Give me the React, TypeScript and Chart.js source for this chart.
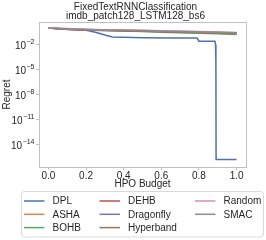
import React, { useEffect, useRef } from "react";
import { Chart, registerables } from "chart.js";

Chart.register(...registerables);

const titleLines = ["FixedTextRNNClassification", "imdb_patch128_LSTM128_bs6"];
const xLabel = "HPO Budget";
const yLabel = "Regret";
const xTicks = [0, 0.2, 0.4, 0.6, 0.8, 1.0];
const yTickExps = [-2, -5, -8, -11, -14];

const budgetGrid = [0, 0.1, 0.2, 0.3, 0.4, 0.5, 0.6, 0.7, 0.8, 0.9, 1.0];
const dplBudget = [0, 0.1, 0.2, 0.25, 0.3, 0.34, 0.5, 0.65, 0.79, 0.8, 0.885, 0.888, 0.89, 0.891, 1.0];
const dplRegret = [0.95, 0.66, 0.5, 0.3, 0.14, 0.08, 0.065, 0.062, 0.06, 0.025, 0.024, 0.01, 1e-4, 1.7e-16, 1.7e-16];
const ashaRegret = [0.95, 0.73, 0.6, 0.53, 0.48, 0.43, 0.38, 0.34, 0.3, 0.27, 0.24];
const bohbRegret = [0.95, 0.69, 0.56, 0.48, 0.41, 0.36, 0.3, 0.26, 0.22, 0.19, 0.16];
const dehbRegret = [0.95, 0.63, 0.54, 0.49, 0.44, 0.4, 0.35, 0.31, 0.28, 0.24, 0.22];
const dragonflyRegret = [0.95, 0.73, 0.61, 0.53, 0.46, 0.41, 0.36, 0.32, 0.29, 0.26, 0.23];
const hyperbandRegret = [0.95, 0.69, 0.58, 0.5, 0.44, 0.39, 0.34, 0.3, 0.26, 0.23, 0.2];
const randomRegret = [0.95, 0.8, 0.66, 0.6, 0.54, 0.5, 0.45, 0.4, 0.35, 0.31, 0.28];
const smacRegret = [0.95, 0.76, 0.63, 0.56, 0.51, 0.46, 0.42, 0.37, 0.33, 0.3, 0.26];

const methods = ["DPL", "ASHA", "BOHB", "DEHB", "Dragonfly", "Hyperband", "Random", "SMAC"];
const colors = ["#4c72b0", "#dd8452", "#55a868", "#c44e52", "#8172b3", "#937860", "#da8bc3", "#8c8c8c"];

const FONT = "'Liberation Sans', Arial, sans-serif";
const TEXT = "#262626";
const SPINE = "#c0c0c0";

function zip(xs: number[], ys: number[]) {
  return xs.map((x, i) => ({ x, y: ys[i] }));
}

const decorPlugin = {
  id: "decor",
  afterDraw(chart: any) {
    const ctx = chart.ctx;
    const a = chart.chartArea;
    ctx.save();
    ctx.strokeStyle = SPINE;
    ctx.lineWidth = 1;
    ctx.strokeRect(Math.round(a.left) + 0.5, Math.round(a.top) + 0.5, Math.round(a.right - a.left), Math.round(a.bottom - a.top));
    ctx.fillStyle = TEXT;
    ctx.font = `10px ${FONT}`;
    ctx.textAlign = "center";
    ctx.textBaseline = "middle";
    ctx.fillText(titleLines[0], 135.5, 7);
    ctx.fillText(titleLines[1], 135.5, 16.5);
    ctx.fillText(xLabel, (a.left + a.right) / 2, 184.5);
    ctx.save();
    ctx.translate(7, (a.top + a.bottom) / 2);
    ctx.rotate(-Math.PI / 2);
    ctx.fillText(yLabel, 0, 0);
    ctx.restore();
    const ys = chart.scales.y;
    ctx.textBaseline = "middle";
    ctx.textAlign = "left";
    for (const e of yTickExps) {
      const py = ys.getPixelForValue(Math.pow(10, e));
      const sup = "\u2212" + Math.abs(e);
      ctx.font = `10px ${FONT}`;
      const wBase = ctx.measureText("10").width;
      ctx.font = `7px ${FONT}`;
      const wSup = ctx.measureText(sup).width;
      const right = a.left - 5;
      const x0 = right - wBase - wSup;
      ctx.font = `10px ${FONT}`;
      ctx.fillText("10", x0, py + 1.5);
      ctx.font = `7px ${FONT}`;
      ctx.fillText(sup, x0 + wBase + 0.5, py - 2.5);
    }
    const bx = 21.5, by = 191.5, bw = 242, bh = 45.5;
    ctx.strokeStyle = "#d9d9d9";
    ctx.lineWidth = 1;
    ctx.beginPath();
    if (ctx.roundRect) ctx.roundRect(bx, by, bw, bh, 3);
    else ctx.rect(bx, by, bw, bh);
    ctx.fillStyle = "rgba(255,255,255,0.8)";
    ctx.fill();
    ctx.stroke();
    const colX = [24, 99.5, 195];
    const rowY = [201, 214.3, 227.6];
    ctx.font = `10px ${FONT}`;
    ctx.textAlign = "left";
    ctx.textBaseline = "middle";
    methods.forEach((m, i) => {
      const c = Math.floor(i / 3);
      const r = i % 3;
      const lx = colX[c];
      const ly = rowY[r];
      ctx.strokeStyle = colors[i];
      ctx.lineWidth = 1.5;
      ctx.beginPath();
      ctx.moveTo(lx, ly);
      ctx.lineTo(lx + 20.5, ly);
      ctx.stroke();
      ctx.fillStyle = TEXT;
      ctx.fillText(m, lx + 28.5, ly + 0.5);
    });
    ctx.restore();
  },
};

export default function App() {
  const ref = useRef<HTMLCanvasElement | null>(null);
  useEffect(() => {
    document.body.style.margin = "0";
    const seriesValues = [dplRegret, ashaRegret, bohbRegret, dehbRegret, dragonflyRegret, hyperbandRegret, randomRegret, smacRegret];
    const datasets = methods.map((m, i) => ({
      label: m,
      data: i === 0 ? zip(dplBudget, dplRegret) : zip(budgetGrid, seriesValues[i]),
      borderColor: colors[i],
      backgroundColor: colors[i],
      borderWidth: 1.5,
      pointRadius: 0,
      tension: 0,
      fill: false,
      order: methods.length - i,
    }));
    const chart = new Chart(ref.current as HTMLCanvasElement, {
      type: "line",
      data: { datasets },
      plugins: [decorPlugin],
      options: {
        animation: false,
        responsive: false,
        layout: { padding: { top: 22, right: 20, left: 0, bottom: 0 } },
        plugins: { legend: { display: false }, title: { display: false }, tooltip: { enabled: false } },
        scales: {
          x: {
            type: "linear",
            min: -0.05,
            max: 1.05,
            afterBuildTicks: (s: any) => {
              s.ticks = xTicks.map((v) => ({ value: v }));
            },
            afterFit: (s: any) => {
              s.height = 73;
            },
            border: { display: false },
            grid: { display: true, drawOnChartArea: false, drawTicks: true, tickLength: 3, color: SPINE },
            ticks: {
              color: TEXT,
              font: { family: FONT, size: 10 },
              padding: 0,
              maxRotation: 0,
              callback: (v: any) => Number(v).toFixed(1),
            },
          },
          y: {
            type: "logarithmic",
            min: Math.pow(10, -16.68),
            max: Math.pow(10, 0.695),
            afterBuildTicks: (s: any) => {
              s.ticks = yTickExps.map((e) => ({ value: Math.pow(10, e) }));
            },
            afterFit: (s: any) => {
              s.width = 39;
            },
            border: { display: false },
            grid: { display: true, drawOnChartArea: false, drawTicks: true, tickLength: 3, color: SPINE },
            ticks: { display: false },
          },
        },
      },
    });
    return () => chart.destroy();
  }, []);
  return (
    <div style={{ width: 266, height: 240 }}>
      <canvas ref={ref} width={266} height={240} style={{ display: "block" }} />
    </div>
  );
}
